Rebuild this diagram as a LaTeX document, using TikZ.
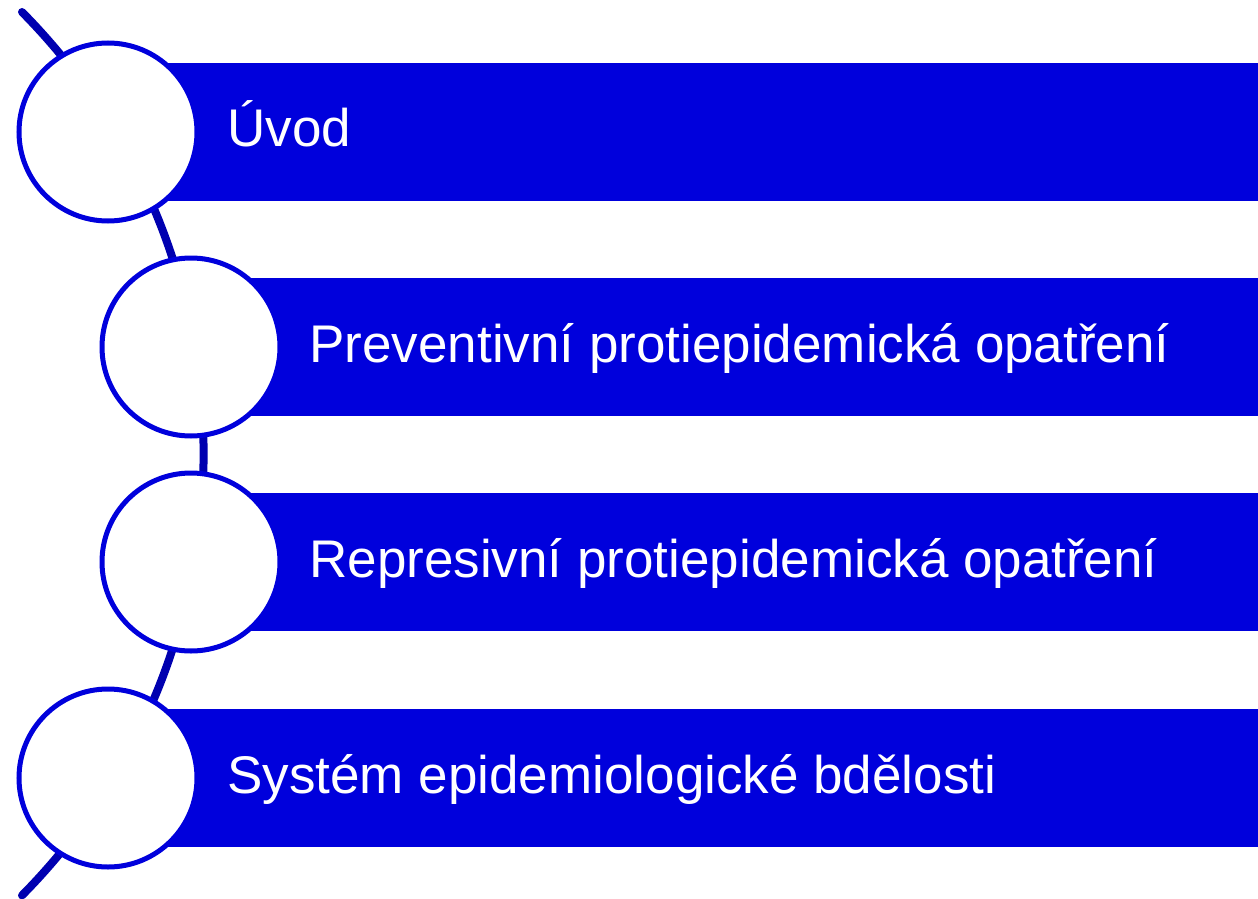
\documentclass[tikz,border=0pt]{standalone}
\usepackage{fontspec}
\setmainfont{Liberation Sans}
\definecolor{barblue}{RGB}{0,0,220}
\definecolor{arcblue}{RGB}{0,0,176}
\tikzset{
  bar/.style={fill=barblue, draw=none, anchor=west, minimum height=69pt, inner sep=0pt},
  ring/.style={circle, fill=white, draw=barblue, line width=2.5pt, minimum size=89pt, inner sep=0pt},
  txt/.style={anchor=base west, inner sep=0pt, text=white, font=\fontsize{26.5pt}{30pt}\selectfont},
}
\begin{document}
\begin{tikzpicture}[x=0.5pt,y=-0.5pt]
\useasboundingbox (0,0) rectangle (1258,899);
%% arc behind the circles
\coordinate (arctop) at (22,12);
\draw[arcblue, line width=4pt, line cap=round] (arctop) arc[start angle=44.7, end angle=-44.7, radius=314pt];
%%
\node[bar, minimum width=575pt] (b1) at (108,132) {};
\node[bar, minimum width=533.5pt] (b2) at (191,347) {};
\node[bar, minimum width=533.5pt] (b3) at (191,562) {};
\node[bar, minimum width=575pt] (b4) at (108,778) {};
%%
\node[ring] (c1) at (108,132) {};
\node[ring] (c2) at (191,347) {};
\node[ring] (c3) at (191,562) {};
\node[ring] (c4) at (108,778) {};
%%
\node[txt] (t1) at (227,147) {Úvod};
\node[txt] (t2) at (309,362) {Preventivní protiepidemická opatření};
\node[txt] (t3) at (309,577) {Represivní protiepidemická opatření};
\node[txt] (t4) at (227,793) {Systém epidemiologické bdělosti};
\end{tikzpicture}
\end{document}
